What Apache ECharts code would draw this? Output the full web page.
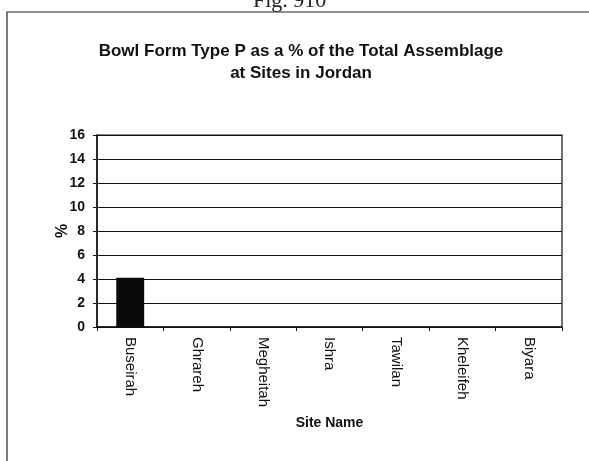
<!DOCTYPE html>
<html><head><meta charset="utf-8">
<script src="https://cdn.jsdelivr.net/npm/echarts@6/dist/echarts.min.js"></script>
<style>html,body{margin:0;padding:0;background:#fff}#c{width:589px;height:461px}</style>
</head><body><div id="c"></div>
<script>
const categories = ["Buseirah","Ghrareh","Megheitah","Ishra","Tawilan","Kheleifeh","Biyara"];
const values = [4.1, 0, 0, 0, 0, 0, 0];
const titleText = "Bowl Form Type P as a % of the Total Assemblage\nat Sites in Jordan";

const chart = echarts.init(document.getElementById('c'), null, {renderer:'canvas'});
chart.setOption({
  backgroundColor:'#fff',
  animation:false,
  title:{text:titleText,left:296,textAlign:'center',top:35,
    textStyle:{fontFamily:'Liberation Sans, Arial',fontSize:17,fontWeight:'bold',color:'#111',lineHeight:22}},
  graphic:[
    {type:'polyline',shape:{points:[[7,470],[7,12],[589,12]]},style:{stroke:'#222',lineWidth:1.2,fill:null}},
    {type:'text',left:253,top:-10,style:{text:'Fig. 910',font:'22px Liberation Serif',fill:'#222'}}
  ],
  grid:{left:97,right:27,top:135,bottom:134,show:true,borderColor:'#111',borderWidth:1.2,backgroundColor:'transparent'},
  xAxis:{type:'category',data:categories,
    name:'Site Name',nameLocation:'middle',nameGap:89,
    nameTextStyle:{fontFamily:'Liberation Sans, Arial',fontSize:14,fontWeight:'bold',color:'#111'},
    axisLine:{lineStyle:{color:'#111',width:1.5}},
    axisTick:{show:true,alignWithLabel:false,length:4,lineStyle:{color:'#111'}},
    axisLabel:{rotate:-90,margin:10,fontFamily:'Liberation Sans, Arial',fontSize:15,color:'#111',interval:0}},
  yAxis:{type:'value',min:0,max:16,interval:2,
    name:'%',nameLocation:'middle',nameGap:26,nameRotate:90,nameMoveOverlap:false,
    nameTextStyle:{fontFamily:'Liberation Sans, Arial',fontSize:16,fontWeight:'bold',color:'#111'},
    axisLine:{show:true,lineStyle:{color:'#111',width:1.5}},
    axisTick:{show:true,length:4,lineStyle:{color:'#111'}},
    axisLabel:{margin:12,fontFamily:'Liberation Sans, Arial',fontSize:14,fontWeight:'bold',color:'#111'},
    splitLine:{lineStyle:{color:'#111',width:1}}},
  series:[{type:'bar',data:values,barWidth:'42%',itemStyle:{color:'#0a0a0a'}}]
});
</script></body></html>
